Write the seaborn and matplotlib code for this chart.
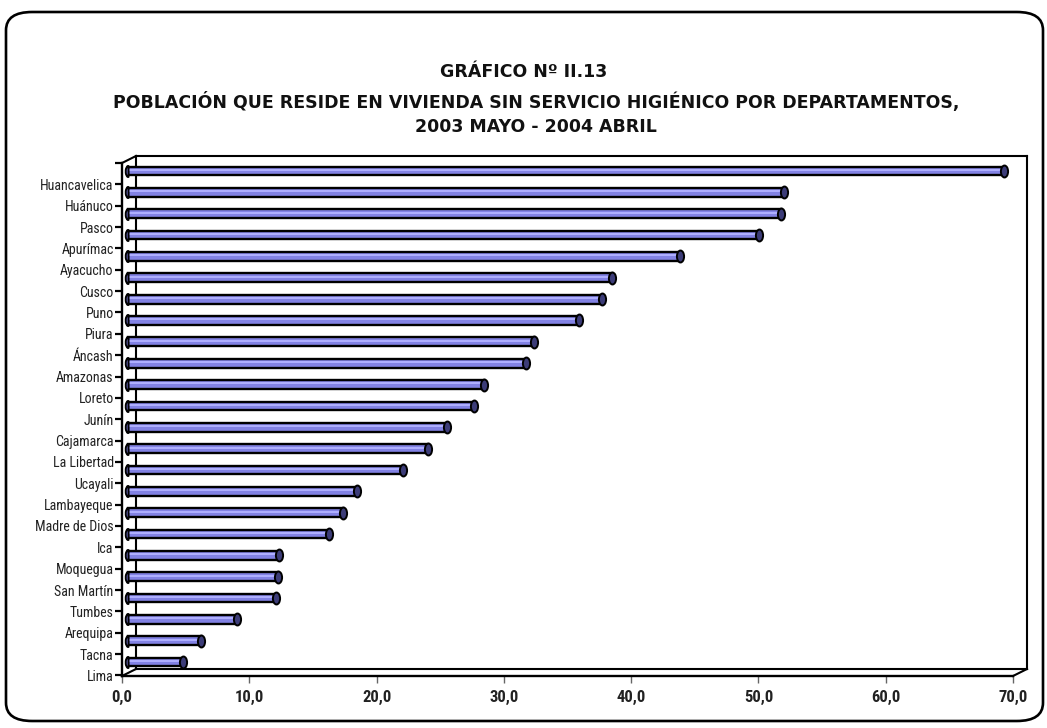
import numpy as np
import matplotlib
matplotlib.use("Agg")
import matplotlib.pyplot as plt
import seaborn as sns
from matplotlib.path import Path
from matplotlib.transforms import Affine2D, ScaledTranslation
from matplotlib.lines import Line2D
from matplotlib.patches import FancyBboxPatch
from matplotlib import font_manager

departamentos = ["Huancavelica", "Huánuco", "Pasco", "Apurímac", "Ayacucho", "Cusco",
                 "Puno", "Piura", "Áncash", "Amazonas", "Loreto", "Junín", "Cajamarca",
                 "La Libertad", "Ucayali", "Lambayeque", "Madre de Dios", "Ica",
                 "Moquegua", "San Martín", "Tumbes", "Arequipa", "Tacna", "Lima"]
porcentaje = [68.8, 51.5, 51.3, 49.6, 43.4, 38.0, 37.2, 35.4, 31.9, 31.3, 28.0, 27.2,
              25.1, 23.6, 21.6, 18.0, 16.9, 15.8, 11.9, 11.8, 11.6, 8.6, 5.7, 4.3]
x_ticks = [0, 10, 20, 30, 40, 50, 60, 70]
x_tick_labels = ["0,0", "10,0", "20,0", "30,0", "40,0", "50,0", "60,0", "70,0"]
titulo = "GRÁFICO Nº II.13"
subtitulo = "POBLACIÓN QUE RESIDE EN VIVIENDA SIN SERVICIO HIGIÉNICO POR DEPARTAMENTOS,\n2003 MAYO - 2004 ABRIL"

sns.set_theme(style="white")
fonts = font_manager.fontManager.ttflist
names = {f.name for f in fonts}
narrow = None
for cand in ["Liberation Sans Narrow", "Arial Narrow", "Roboto Condensed", "Open Sans Condensed"]:
    if cand in names:
        narrow = cand
        break
cond_stretch = "normal"
if narrow is None:
    narrow = "DejaVu Sans"
    if any(f.name == "DejaVu Sans" and f.stretch == "condensed" for f in fonts):
        cond_stretch = "condensed"
plt.rcParams["font.family"] = ["DejaVu Sans"]

W, H = 1047, 728
fig = plt.figure(figsize=(W / 100, H / 100), dpi=100)
fig.patch.set_facecolor("white")

def fx(px):
    return px / W

def fy(py):
    return 1 - py / H

# rounded outer border
border = FancyBboxPatch((fx(6), fy(721)), fx(1043) - fx(6), fy(12) - fy(721),
                        boxstyle="round,pad=0,rounding_size=0.025",
                        transform=fig.transFigure, fill=False, edgecolor="black",
                        linewidth=1.9, zorder=-2)
fig.add_artist(border)

# axes (front plane)
left_px, right_px, top_px, bot_px = 122, 1013, 163, 676
ax = fig.add_axes([fx(left_px), fy(bot_px), fx(right_px) - fx(left_px), fy(top_px) - fy(bot_px)])
ax.patch.set_visible(False)

bar_color = "#8282e4"
sns.barplot(x=porcentaje, y=departamentos, orient="h", color=bar_color, saturation=1,
            width=0.41, edgecolor="black", linewidth=1.7, ax=ax, zorder=2)

# shift bars half a depth to the right (3D look)
shift = ScaledTranslation(6 / 100, 0, fig.dpi_scale_trans)
for p in ax.patches:
    p.set_transform(ax.transData + shift)

ypos = np.arange(len(departamentos))
vals = np.array(porcentaje)
# highlight stripe
hl = ax.hlines(ypos - 0.05, 0, vals - 0.2, color="#b0b0ff", linewidth=1.4, zorder=2.5)
hl.set_transform(ax.transData + shift)

# left rounded ends
arc = Path.arc(90, 270)
verts = np.vstack([arc.vertices, [[0, 1]]])
codes = [Path.MOVETO] + [Path.LINETO] * (len(verts) - 2) + [Path.CLOSEPOLY]
half = Path(verts, codes).transformed(Affine2D().scale(0.5, 1.0))
lc, = ax.plot(np.zeros_like(vals), ypos, linestyle="none", marker=half, markersize=7.9,
              markerfacecolor=bar_color, markeredgecolor="black", markeredgewidth=1.4, zorder=3)
lc.set_transform(ax.transData + shift)

# right end caps (ellipse)
ell = Path.unit_circle().transformed(Affine2D().scale(0.6, 1.0))
rc, = ax.plot(vals, ypos, linestyle="none", marker=ell, markersize=8.6,
              markerfacecolor="#3c3c78", markeredgecolor="black", markeredgewidth=1.4, zorder=3)
rc.set_transform(ax.transData + shift)

ax.set_xlim(0, 70)
ax.set_ylim(23.65, -0.375)
ax.set_xticks(x_ticks)
ax.set_xticklabels(x_tick_labels, fontweight="bold", fontsize=12, color="#222222",
                   family=narrow, fontstretch=cond_stretch)
ax.set_yticks([-0.375 + k for k in range(25)])
ax.set_yticklabels([""] + departamentos, fontsize=10, color="#222222",
                   family=narrow, fontstretch=cond_stretch)
ax.set_xlabel("")
ax.set_ylabel("")
ax.tick_params(axis="y", direction="out", length=5, width=1.6, color="black", pad=1, left=True)
ax.tick_params(axis="x", direction="out", length=5, width=1.0, color="#666666", pad=5, bottom=True)
for s in ["top", "right"]:
    ax.spines[s].set_visible(False)
ax.spines["left"].set_linewidth(1.7)
ax.spines["left"].set_color("black")
ax.spines["bottom"].set_linewidth(1.7)
ax.spines["bottom"].set_color("black")
ax.grid(False)

# back plane of the 3D box
dx, dy = 14, 7
segs = [
    [(left_px + dx, top_px - dy), (right_px + dx, top_px - dy)],
    [(right_px + dx, top_px - dy), (right_px + dx, bot_px - dy)],
    [(left_px + dx, bot_px - dy), (right_px + dx, bot_px - dy)],
    [(left_px + dx, top_px - dy), (left_px + dx, bot_px - dy)],
    [(left_px, top_px), (left_px + dx, top_px - dy)],
    [(left_px, bot_px), (left_px + dx, bot_px - dy)],
    [(right_px, bot_px), (right_px + dx, bot_px - dy)],
]
for (x0, y0), (x1, y1) in segs:
    fig.add_artist(Line2D([fx(x0), fx(x1)], [fy(y0), fy(y1)], transform=fig.transFigure,
                          color="black", linewidth=1.5, zorder=-1, solid_capstyle="projecting"))

# titles
fig.text(fx(524), fy(72), titulo, ha="center", va="center", fontsize=12.5, fontweight="bold",
         color="#111111")
fig.text(fx(536), fy(114), subtitulo, ha="center", va="center", fontsize=12.5, fontweight="bold",
         color="#111111", linespacing=1.45)

fig.savefig("out.png", dpi=100, facecolor="white")
